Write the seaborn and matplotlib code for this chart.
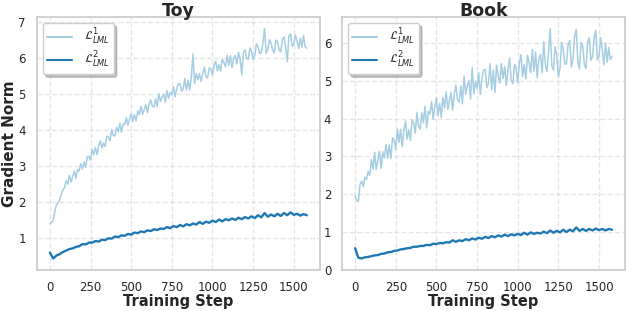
import numpy as np
import pandas as pd
import matplotlib
matplotlib.use("Agg")
import matplotlib.pyplot as plt
import seaborn as sns

# light curve is logged every 10 steps, dark curve every 20 steps
steps_fine = list(range(0, 1581, 10))
steps_coarse = list(range(0, 1581, 20))

# Toy dataset: gradient norms
toy_l1 = [
    1.40, 1.44, 1.50, 1.75, 1.92, 1.98, 2.08, 2.22, 2.35, 2.40,
    2.60, 2.50, 2.75, 2.56, 2.71, 2.86, 2.66, 2.91, 2.87, 3.07,
    2.92, 3.12, 2.97, 3.27, 3.27, 3.17, 3.47, 3.32, 3.52, 3.32,
    3.57, 3.71, 3.50, 3.65, 3.54, 3.83, 3.82, 3.71, 4.01, 3.85,
    3.84, 4.08, 3.96, 4.20, 3.94, 4.17, 4.16, 4.35, 4.14, 4.32,
    4.46, 4.24, 4.43, 4.26, 4.54, 4.43, 4.66, 4.44, 4.57, 4.71,
    4.49, 4.72, 4.84, 4.67, 4.64, 4.87, 4.65, 5.02, 4.80, 4.92,
    5.00, 4.78, 5.10, 4.88, 5.05, 4.98, 5.20, 4.93, 5.15, 5.28,
    5.30, 5.08, 5.15, 5.43, 5.11, 5.39, 5.11, 5.49, 6.12, 5.29,
    5.57, 5.40, 5.57, 5.35, 5.57, 5.75, 5.48, 5.45, 5.73, 5.70,
    5.53, 5.80, 5.92, 5.65, 5.82, 5.64, 5.96, 5.88, 5.76, 6.08,
    5.80, 6.07, 5.74, 6.00, 6.07, 5.84, 6.16, 5.98, 5.54, 6.16,
    6.23, 6.00, 5.96, 6.28, 6.20, 5.97, 6.08, 6.40, 6.32, 6.13,
    6.15, 6.41, 6.82, 6.13, 6.24, 6.51, 6.42, 6.23, 6.14, 6.50,
    6.46, 6.22, 6.18, 6.53, 6.59, 6.30, 5.91, 6.62, 6.67, 6.33,
    6.39, 6.64, 6.48, 6.27, 6.56, 6.30, 6.63, 6.31, 6.28,
]
toy_l2 = [
    0.60, 0.44, 0.52, 0.56, 0.62, 0.66, 0.70, 0.72, 0.76, 0.78,
    0.84, 0.83, 0.88, 0.88, 0.92, 0.91, 0.96, 0.95, 1.00, 0.99,
    1.05, 1.03, 1.08, 1.07, 1.12, 1.10, 1.16, 1.14, 1.19, 1.17,
    1.22, 1.20, 1.25, 1.23, 1.27, 1.26, 1.31, 1.28, 1.34, 1.31,
    1.37, 1.33, 1.39, 1.36, 1.41, 1.38, 1.45, 1.40, 1.46, 1.43,
    1.49, 1.45, 1.52, 1.47, 1.53, 1.50, 1.55, 1.51, 1.57, 1.53,
    1.59, 1.55, 1.61, 1.56, 1.64, 1.58, 1.70, 1.60, 1.66, 1.61,
    1.68, 1.62, 1.70, 1.64, 1.72, 1.65, 1.68, 1.63, 1.67, 1.64,
]

# Book dataset
book_l1 = [
    1.95, 1.85, 1.80, 2.25, 2.35, 2.20, 2.45, 2.38, 2.60, 2.50,
    2.92, 2.66, 3.11, 2.65, 2.89, 3.14, 2.68, 3.12, 2.96, 3.31,
    2.95, 3.30, 2.94, 3.49, 3.43, 3.18, 3.72, 3.37, 3.71, 3.26,
    3.70, 3.93, 3.46, 3.70, 3.43, 3.96, 3.89, 3.62, 4.16, 3.79,
    3.72, 4.15, 3.89, 4.32, 3.75, 4.19, 4.12, 4.45, 3.98, 4.32,
    4.55, 4.08, 4.40, 4.03, 4.56, 4.28, 4.71, 4.24, 4.46, 4.69,
    4.22, 4.65, 4.88, 4.50, 4.43, 4.86, 4.39, 5.12, 4.64, 4.87,
    5.00, 4.52, 5.34, 4.66, 4.98, 4.80, 5.22, 4.64, 5.06, 5.28,
    5.30, 4.82, 4.93, 5.45, 4.76, 5.28, 4.69, 5.41, 5.12, 4.94,
    5.45, 5.06, 5.37, 4.88, 5.29, 5.60, 5.01, 4.92, 5.43, 5.34,
    4.95, 5.47, 5.69, 5.11, 5.43, 5.05, 5.67, 5.49, 5.21, 5.83,
    5.25, 5.76, 5.08, 5.59, 5.70, 5.21, 6.03, 5.44, 5.25, 5.77,
    6.38, 5.39, 5.29, 5.90, 5.71, 5.11, 5.32, 6.02, 5.83, 5.44,
    5.45, 5.96, 6.06, 5.36, 5.57, 6.18, 6.36, 5.50, 5.31, 6.01,
    5.92, 5.42, 5.32, 6.03, 6.14, 5.54, 5.64, 6.14, 6.34, 5.55,
    5.65, 6.14, 5.83, 5.42, 6.00, 5.49, 5.88, 5.56, 5.65,
]
book_l2 = [
    0.57, 0.32, 0.30, 0.33, 0.34, 0.36, 0.38, 0.39, 0.42, 0.43,
    0.46, 0.47, 0.50, 0.51, 0.54, 0.55, 0.57, 0.58, 0.61, 0.61,
    0.63, 0.63, 0.66, 0.65, 0.69, 0.68, 0.71, 0.70, 0.73, 0.72,
    0.78, 0.74, 0.78, 0.76, 0.81, 0.78, 0.83, 0.80, 0.85, 0.82,
    0.87, 0.84, 0.89, 0.86, 0.91, 0.88, 0.93, 0.89, 0.94, 0.91,
    0.95, 0.92, 0.98, 0.93, 0.99, 0.95, 0.98, 0.96, 1.01, 0.97,
    1.04, 0.98, 1.03, 0.99, 1.06, 1.00, 1.06, 1.02, 1.12, 1.03,
    1.08, 1.03, 1.08, 1.04, 1.09, 1.05, 1.08, 1.04, 1.08, 1.06,
]

labels = [r"$\mathcal{L}^1_{LML}$", r"$\mathcal{L}^2_{LML}$"]
colors = ["#a6cee3", "#1f78b4"]

sns.set_theme(style="whitegrid")
plt.rcParams["font.family"] = ["DejaVu Sans"]

fig, axes = plt.subplots(1, 2, figsize=(6.28, 3.11), dpi=100)

panels = [("Toy", toy_l1, toy_l2), ("Book", book_l1, book_l2)]
for ax, (title, l1, l2) in zip(axes, panels):
    sns.lineplot(x=steps_fine, y=l1, color=colors[0], label=labels[0], ax=ax, linewidth=1.1)
    sns.lineplot(x=steps_coarse, y=l2, color=colors[1], label=labels[1], ax=ax, linewidth=1.7)
    ax.set_title(title, fontsize=12.5, fontweight="bold", pad=1)
    ax.set_xlabel("Training Step", fontsize=10.5, fontweight="bold", labelpad=0)
    ax.set_ylabel("")
    ax.set_xticks([0, 250, 500, 750, 1000, 1250, 1500])
    ax.tick_params(labelsize=8.5, pad=2)
    ax.grid(True, linestyle="--", alpha=0.5)
    leg = ax.legend(loc="upper left", fontsize=8.5, frameon=True,
                    shadow={"color": "gray", "alpha": 0.45},
                    fancybox=True, handlelength=2.1, labelspacing=0.25,
                    borderpad=0.35, handletextpad=1.0)
    leg.get_frame().set_edgecolor("#cccccc")
    for line in leg.get_lines():
        line.set_linewidth(1.5)

axes[0].set_ylabel("Gradient Norm", fontsize=11, fontweight="bold", labelpad=1)

plt.subplots_adjust(left=0.059, right=0.995, top=0.945, bottom=0.132, wspace=0.08)
plt.savefig("out.png", dpi=100)
